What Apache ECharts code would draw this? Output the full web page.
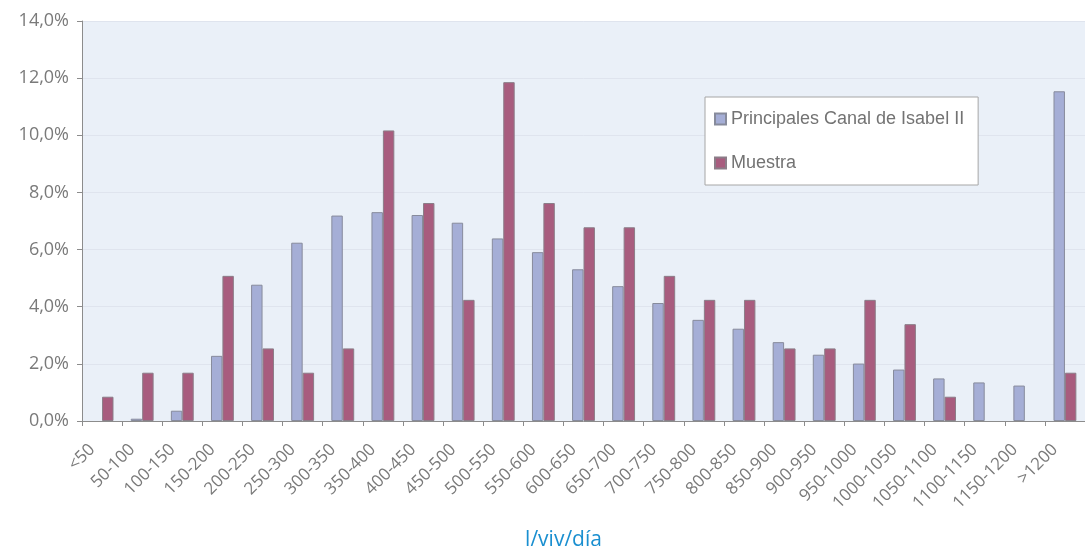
<!DOCTYPE html>
<html>
<head>
<meta charset="utf-8">
<script src="https://cdn.jsdelivr.net/npm/echarts@6/dist/echarts.min.js"></script>
<style>
html,body{margin:0;padding:0;background:#fff;}
#chart{width:1085px;height:556px;}
</style>
</head>
<body>
<div id="chart"></div>
<script>
const categories = ['<50','50-100','100-150','150-200','200-250','250-300','300-350','350-400','400-450','450-500','500-550','550-600','600-650','650-700','700-750','750-800','800-850','850-900','900-950','950-1000','1000-1050','1050-1100','1100-1150','1150-1200','>1200'];
const principales = [0, 0.08, 0.36, 2.28, 4.77, 6.24, 7.19, 7.31, 7.21, 6.94, 6.39, 5.91, 5.31, 4.72, 4.13, 3.54, 3.23, 2.76, 2.32, 2.01, 1.80, 1.49, 1.35, 1.24, 11.54];
const muestra = [0.85, 1.69, 1.69, 5.08, 2.54, 1.69, 2.54, 10.17, 7.63, 4.24, 11.86, 7.63, 6.78, 6.78, 5.08, 4.24, 4.24, 2.54, 2.54, 4.24, 3.39, 0.85, 0, 0, 1.69];
const seriesNames = ['Principales Canal de Isabel II', 'Muestra'];
const axisName = 'l/viv/día';

const noZero = arr => arr.map(v => (v === 0 ? null : v));

const chart = echarts.init(document.getElementById('chart'));
chart.setOption({
  animation: false,
  legend: {
    orient: 'vertical',
    left: 705, top: 97,
    padding: [13, 14, 13, 9],
    itemGap: 26,
    itemWidth: 11, itemHeight: 11,
    icon: 'rect',
    backgroundColor: '#ffffff',
    borderColor: '#a6a6a6',
    borderWidth: 1,
    borderRadius: 0,
    textStyle: { fontFamily: 'Liberation Sans', fontSize: 18, color: '#737373' },
    data: seriesNames
  },
  grid: { left: 82, right: 0, top: 21, height: 405, containLabel: false,
          show: true, backgroundColor: '#eaf0f8', borderWidth: 0 },
  xAxis: {
    type: 'category',
    data: categories,
    name: axisName,
    nameLocation: 'middle',
    nameGap: 109,
    nameTextStyle: { fontFamily: 'Open Sans', fontSize: 21, color: '#1a8fd0', padding: [0, 40, 0, 0] },
    axisLine: { lineStyle: { color: '#8c8c8c', width: 1 } },
    axisTick: { show: true, alignWithLabel: false, length: 5, lineStyle: { color: '#8c8c8c' } },
    axisLabel: { rotate: 45, interval: 0, margin: 16, padding: [0, 14, 0, 0],
      fontFamily: 'Open Sans', fontSize: 17, color: '#7a7a7a' }
  },
  yAxis: {
    type: 'value',
    min: 0, max: 14, interval: 2,
    axisLine: { show: true, lineStyle: { color: '#8c8c8c', width: 1 } },
    axisTick: { show: true, length: 5, lineStyle: { color: '#8c8c8c' } },
    splitLine: { lineStyle: { color: '#dfe4ee', width: 1 } },
    axisLabel: { margin: 13, fontFamily: 'Open Sans', fontSize: 18, color: '#7a7a7a',
      formatter: v => v.toFixed(1).replace('.', ',') + '%' }
  },
  series: [
    { name: seriesNames[0], type: 'bar', data: noZero(principales), barWidth: '28.5%', barGap: '0%',
      itemStyle: { color: '#a5aed6', borderColor: '#878b9c', borderWidth: 1 } },
    { name: seriesNames[1], type: 'bar', data: noZero(muestra), barWidth: '28.5%', barGap: '0%',
      itemStyle: { color: '#a85c7e', borderColor: '#8b7d88', borderWidth: 1 } }
  ]
});
</script>
</body>
</html>
